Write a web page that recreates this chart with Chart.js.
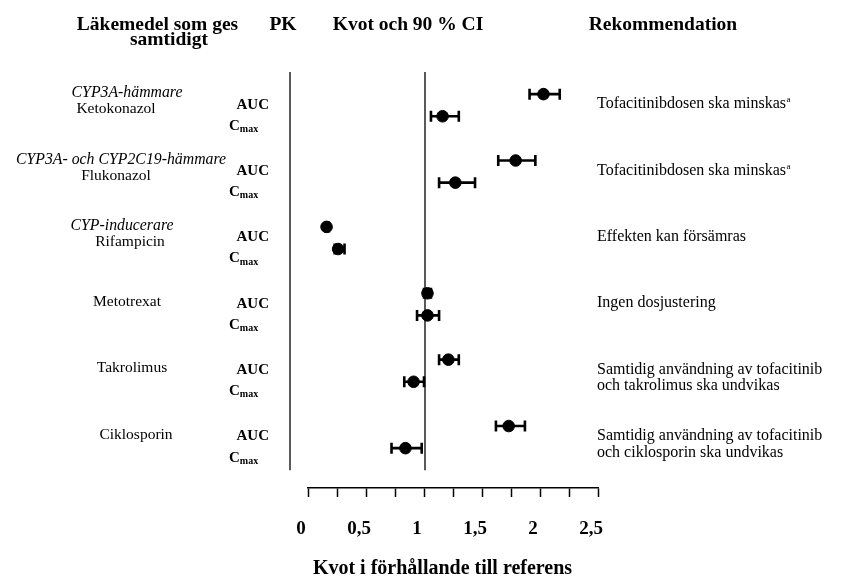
<!DOCTYPE html>
<html>
<head>
<meta charset="utf-8">
<script src="https://cdn.jsdelivr.net/npm/chart.js@4.4.1/dist/chart.umd.min.js"></script>
<style>
  html, body { margin: 0; padding: 0; background: #fff; }
  #wrap { position: relative; width: 847px; height: 576px; }
</style>
</head>
<body>
<div id="wrap"><canvas id="myChart"></canvas></div>
<script>
// Data (ratio and 90 % CI)

const drugs = ["Ketokonazol", "Flukonazol", "Rifampicin", "Metotrexat", "Takrolimus", "Ciklosporin"];
const drugClasses = ["CYP3A-hämmare", "CYP3A- och CYP2C19-hämmare", "CYP-inducerare", "", "", ""];

const aucRatio = [2.03, 1.79, 0.16, 1.03, 1.21, 1.73];
const aucLow = [1.91, 1.64, 0.15, 1.00, 1.13, 1.62];
const aucHigh = [2.17, 1.96, 0.18, 1.06, 1.30, 1.87];

const cmaxRatio = [1.16, 1.27, 0.26, 1.03, 0.91, 0.84];
const cmaxLow = [1.06, 1.13, 0.23, 0.94, 0.83, 0.72];
const cmaxHigh = [1.30, 1.44, 0.315, 1.13, 1.00, 0.98];

const recommendations = [
  ["Tofacitinibdosen ska minskas"],
  ["Tofacitinibdosen ska minskas"],
  ["Effekten kan försämras"],
  ["Ingen dosjustering"],
  ["Samtidig användning av tofacitinib", "och takrolimus ska undvikas"],
  ["Samtidig användning av tofacitinib", "och ciklosporin ska undvikas"],
];
const recNotes = ["a", "a", "", "", "", ""];

const xTicks = [0, 0.5, 1, 1.5, 2, 2.5];
const xTitle = "Kvot i förhållande till referens";
const headers = ["Läkemedel som ges", "samtidigt", "PK", "Kvot och 90 % CI", "Rekommendation"];

// layout bits (pixels)
const serif = "'Liberation Serif', 'Times New Roman', serif";
const frameValue = -0.165; // left frame line sits a bit left of 0
const nameCenters = [116, 116, 130, 127, 132, 136];
const classCenters = [127, 121, 122, 0, 0, 0];

// rows: AUC on 3*i, Cmax on 3*i+1
const points = [];
drugs.forEach((d, i) => {
  points.push({ x: aucRatio[i], y: i * 3 });
  points.push({ x: cmaxRatio[i], y: i * 3 + 1 });
});

function drawCI(ctx, xs, py, lo, hi) {
  const x1 = xs.getPixelForValue(lo);
  const x2 = xs.getPixelForValue(hi);
  ctx.beginPath();
  ctx.moveTo(x1, py);
  ctx.lineTo(x2, py);
  ctx.moveTo(x1, py - 5.5);
  ctx.lineTo(x1, py + 5.5);
  ctx.moveTo(x2, py - 5.5);
  ctx.lineTo(x2, py + 5.5);
  ctx.stroke();
}

const forestPlugin = {
  id: "forest",
  beforeDatasetsDraw(chart) {
    const ctx = chart.ctx;
    const xs = chart.scales.x;
    const ys = chart.scales.y;
    ctx.save();
    ctx.strokeStyle = "#000";
    ctx.lineWidth = 1.3;
    [frameValue, 1].forEach((v) => {
      const px = Math.round(xs.getPixelForValue(v)) + 1;
      ctx.beginPath();
      ctx.moveTo(px, ys.getPixelForValue(-1));
      ctx.lineTo(px, ys.getPixelForValue(17));
      ctx.stroke();
    });
    ctx.lineWidth = 2.6;
    drugs.forEach((d, i) => {
      drawCI(ctx, xs, ys.getPixelForValue(i * 3), aucLow[i], aucHigh[i]);
      drawCI(ctx, xs, ys.getPixelForValue(i * 3 + 1), cmaxLow[i], cmaxHigh[i]);
    });
    ctx.restore();
  },
  afterDraw(chart) {
    const ctx = chart.ctx;
    const ys = chart.scales.y;
    ctx.save();
    ctx.fillStyle = "#000";
    ctx.textBaseline = "alphabetic";

    // column headers
    ctx.font = `bold 19.5px ${serif}`;
    ctx.textAlign = "center";
    ctx.fillText(headers[0], 157.5, 30);
    ctx.fillText(headers[1], 169, 44.5);
    ctx.fillText(headers[2], 283, 30);
    ctx.fillText(headers[3], 408, 30);
    ctx.fillText(headers[4], 663, 30);

    ctx.textBaseline = "middle";
    drugs.forEach((d, i) => {
      const yA = ys.getPixelForValue(i * 3);
      const yC = ys.getPixelForValue(i * 3 + 1);

      // drug name (and class)
      ctx.textAlign = "center";
      if (drugClasses[i]) {
        ctx.font = `italic 15.8px ${serif}`;
        ctx.fillText(drugClasses[i], classCenters[i], yA - 1);
        ctx.font = `15.5px ${serif}`;
        ctx.fillText(d, nameCenters[i], yA + 15);
      } else {
        ctx.font = `15.5px ${serif}`;
        ctx.fillText(d, nameCenters[i], yA + 8.5);
      }

      // PK labels
      ctx.font = `bold 15px ${serif}`;
      ctx.textAlign = "right";
      ctx.fillText("AUC", 269, yA + 10.5);
      ctx.textAlign = "left";
      ctx.fillText("C", 229, yC + 9.5);
      const cw = ctx.measureText("C").width;
      ctx.font = `bold 10px ${serif}`;
      ctx.fillText("max", 229 + cw, yC + 13);

      // recommendation
      ctx.font = `16px ${serif}`;
      recommendations[i].forEach((line, k) => {
        ctx.fillText(line, 597, yA + 10 + k * 16.5);
        if (recNotes[i] && k === recommendations[i].length - 1) {
          const w = ctx.measureText(line).width;
          ctx.font = `9px ${serif}`;
          ctx.fillText(recNotes[i], 597 + w + 0.5, yA + 10 + k * 16.5 - 4);
          ctx.font = `16px ${serif}`;
        }
      });
    });

    // axis title
    ctx.font = `bold 20px ${serif}`;
    ctx.textAlign = "center";
    ctx.textBaseline = "alphabetic";
    ctx.fillText(xTitle, 442.5, 574);
    ctx.restore();
  },
};

function drawChart() {
  const ctx = document.getElementById("myChart").getContext("2d");
  new Chart(ctx, {
    type: "scatter",
    data: {
      datasets: [
        {
          data: points,
          pointRadius: 5.8,
          pointBackgroundColor: "#000",
          pointBorderColor: "#000",
          pointBorderWidth: 1,
        },
      ],
    },
    options: {
      responsive: true,
      maintainAspectRatio: false,
      animation: false,
      layout: { padding: { left: 308, right: 249, top: 72, bottom: 0 } },
      plugins: { legend: { display: false }, tooltip: { enabled: false } },
      scales: {
        x: {
          type: "linear",
          min: 0,
          max: 2.5,
          afterFit(scale) {
            scale.height = 88;
          },
          border: { display: true, color: "#000", width: 1.5 },
          grid: {
            drawOnChartArea: false,
            drawTicks: true,
            tickLength: 9,
            tickColor: "#000",
            tickWidth: 1.5,
          },
          ticks: {
            stepSize: 0.25,
            autoSkip: false,
            maxRotation: 0,
            labelOffset: -7,
            padding: 21,
            color: "#000",
            font: { family: serif, size: 19, weight: "bold" },
            callback: (v) => (xTicks.includes(v) ? String(v).replace(".", ",") : ""),
          },
        },
        y: {
          type: "linear",
          display: false,
          reverse: true,
          min: -1,
          max: 17.8,
        },
      },
    },
    plugins: [forestPlugin],
  });
}

drawChart();
</script>
</body>
</html>
